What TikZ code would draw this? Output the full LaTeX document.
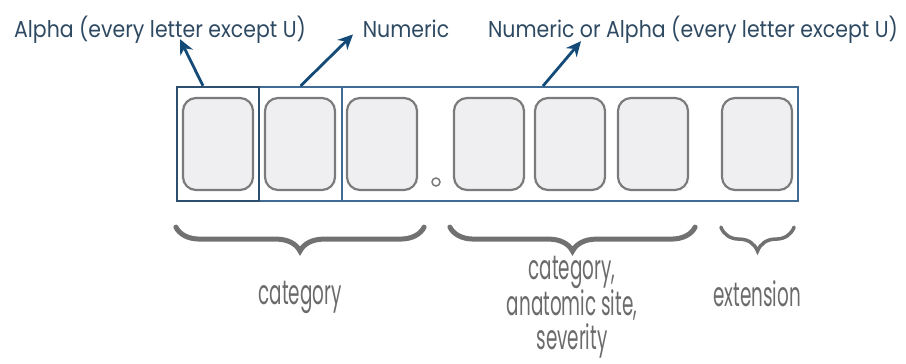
\documentclass[tikz,border=0pt]{standalone}
\usepackage{fontspec}
\usepackage{xcolor}
\usepackage{tikz}
\usetikzlibrary{arrows.meta, positioning, calc, decorations.pathreplacing}
\newfontfamily\lblfont[FakeStretch=0.89]{Poppins}
\newfontfamily\capfont[FakeStretch=0.54]{Poppins}
\definecolor{frameblue}{HTML}{3F6B94}
\definecolor{darkframe}{HTML}{2C4F70}
\definecolor{arrowblue}{HTML}{134A78}
\definecolor{lblblue}{HTML}{2E4A62}
\definecolor{cellfill}{HTML}{EFEFF1}
\definecolor{celldraw}{HTML}{7B7B7B}
\definecolor{bracegray}{HTML}{717171}
\definecolor{capgray}{HTML}{6B6B6B}
\tikzstyle{arrow} = [line width=2.8pt, -{Stealth[length=15pt,width=14pt]}, arrowblue]
\tikzstyle{line} = [line width=2pt, frameblue]

\begin{document}
\begin{tikzpicture}[
    x=1pt, y=-1pt,
    frame/.style={rectangle, draw=frameblue, line width=2pt, minimum height=114pt, inner sep=0pt},
    cell/.style={rectangle, rounded corners=13pt, draw=celldraw, fill=cellfill, line width=2.2pt, minimum width=70pt, minimum height=92pt},
    toplbl/.style={text=lblblue, font=\lblfont\fontsize{23}{28}\selectfont, anchor=base, inner sep=0pt},
    botlbl/.style={text=capgray, font=\capfont\fontsize{34}{34}\selectfont, align=center, inner sep=0pt},
    brace/.style={decorate, decoration={brace, mirror, amplitude=24pt}, bracegray, line width=5pt, line cap=round}
]
    \useasboundingbox (0,0) rectangle (906,364);

    % outer frames
    \node[frame, minimum width=456pt] (framec) at (570,144) {};
    \node[frame, minimum width=83pt] (frameb) at (300.5,144) {};
    \node[frame, minimum width=82pt, draw=darkframe, line width=2.3pt] (framea) at (218,144) {};

    % character cells
    \node[cell] (c1) at (218,144) {};
    \node[cell] (c2) at (300,144) {};
    \node[cell] (c3) at (382,144) {};
    \node[cell] (c4) at (489,144) {};
    \node[cell] (c5) at (570,144) {};
    \node[cell] (c6) at (653,144) {};
    \node[cell] (c7) at (757,144) {};
    \node[circle, draw=celldraw, fill=white, line width=1.5pt, minimum size=8pt, inner sep=0pt] (dot) at (436,182) {};

    % labels above
    \node[toplbl] (alphalbl) at (160,37) {Alpha (every letter except U)};
    \node[toplbl] (numlbl) at (406,37) {Numeric};
    \node[toplbl] (mixlbl) at (693,37) {Numeric or Alpha (every letter except U)};

    \draw[arrow] ([xshift=-15pt]framea.north) -- ([xshift=20pt,yshift=4pt]alphalbl.south);
    \draw[arrow] (frameb.north) -- ([xshift=-53pt,yshift=3pt]numlbl.south);
    \draw[arrow] ([xshift=-27pt]framec.north) -- ([xshift=-112pt,yshift=2pt]mixlbl.south);

    % braces and captions
    \draw[brace] ($(c1.south west)+(-6,36)$) -- ($(c3.south east)+(6,36)$);
    \draw[brace] ($(c4.south west)+(-3,36)$) -- ($(c6.south east)+(6,36)$);
    \draw[brace, line width=3.5pt] ($(c7.south west)+(0,36)$) -- ($(c7.south east)+(1,36)$);

    \node[botlbl, anchor=base] (catlbl) at (300,304) {category};
    \node[botlbl] (sitelbl) at (572,307) {category,\\anatomic site,\\severity};
    \node[botlbl, anchor=base] (extlbl) at (757,306) {extension};
\end{tikzpicture}
\end{document}
